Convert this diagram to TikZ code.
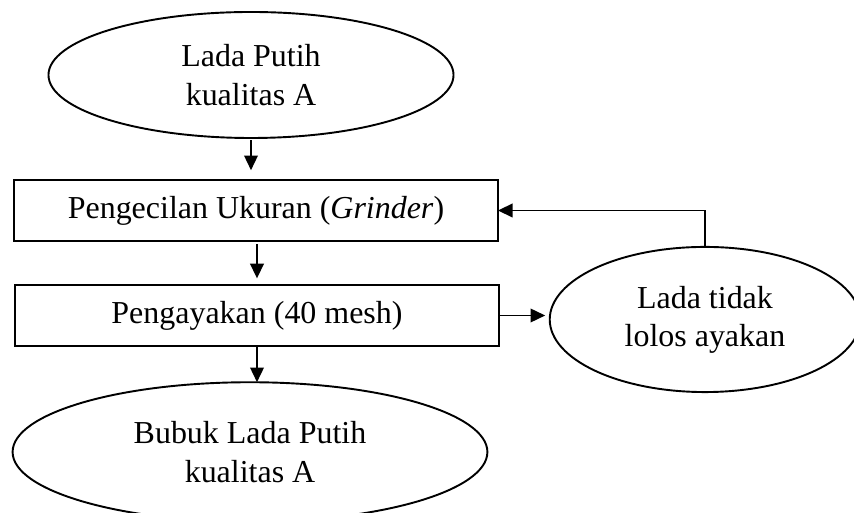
\documentclass[tikz,border=0pt]{standalone}
\usepackage{fontspec}
\setmainfont{Liberation Serif}
\usetikzlibrary{arrows.meta,shapes.geometric}
\begin{document}
\begin{tikzpicture}[x=0.4444pt,y=-0.4444pt,inner sep=0pt,outer sep=0pt,line width=0.85pt,
font=\fontsize{14.2}{17}\selectfont,
procbox/.style={draw,rectangle,minimum width=215pt,minimum height=27pt},
terminal/.style={draw,ellipse,align=center},
flow/.style={-{Triangle[length=6.5pt,width=6pt]}}]
\useasboundingbox (0,0) rectangle (854,513);
\draw (251,75) node[terminal,minimum width=180pt,minimum height=56pt] (in) {Lada Putih\\kualitas A};
\draw (256,210.5) node[procbox] (grind) {Pengecilan Ukuran (\textit{Grinder})};
\draw (257,315.5) node[procbox] (sieve) {Pengayakan (40 mesh)};
\draw (705,319.5) node[terminal,minimum width=138pt,minimum height=64.5pt] (rej) {Lada tidak\\lolos ayakan};
\draw (250,452) node[terminal,minimum width=211pt,minimum height=62pt] (out) {Bubuk Lada Putih\\kualitas A};
\draw[flow,shorten <=1pt,shorten >=4.4pt] (in.south) -- (in.south |- grind.north);
\draw[flow,shorten <=1.5pt,shorten >=3pt] (sieve.north |- grind.south) -- (sieve.north);
\draw[flow] (sieve.south) -- (sieve.south |- out.north);
\draw[flow,shorten >=2pt] (sieve.east) -- (sieve.east -| rej.west);
\draw[flow] (rej.north) |- (grind.east);
\end{tikzpicture}
\end{document}
